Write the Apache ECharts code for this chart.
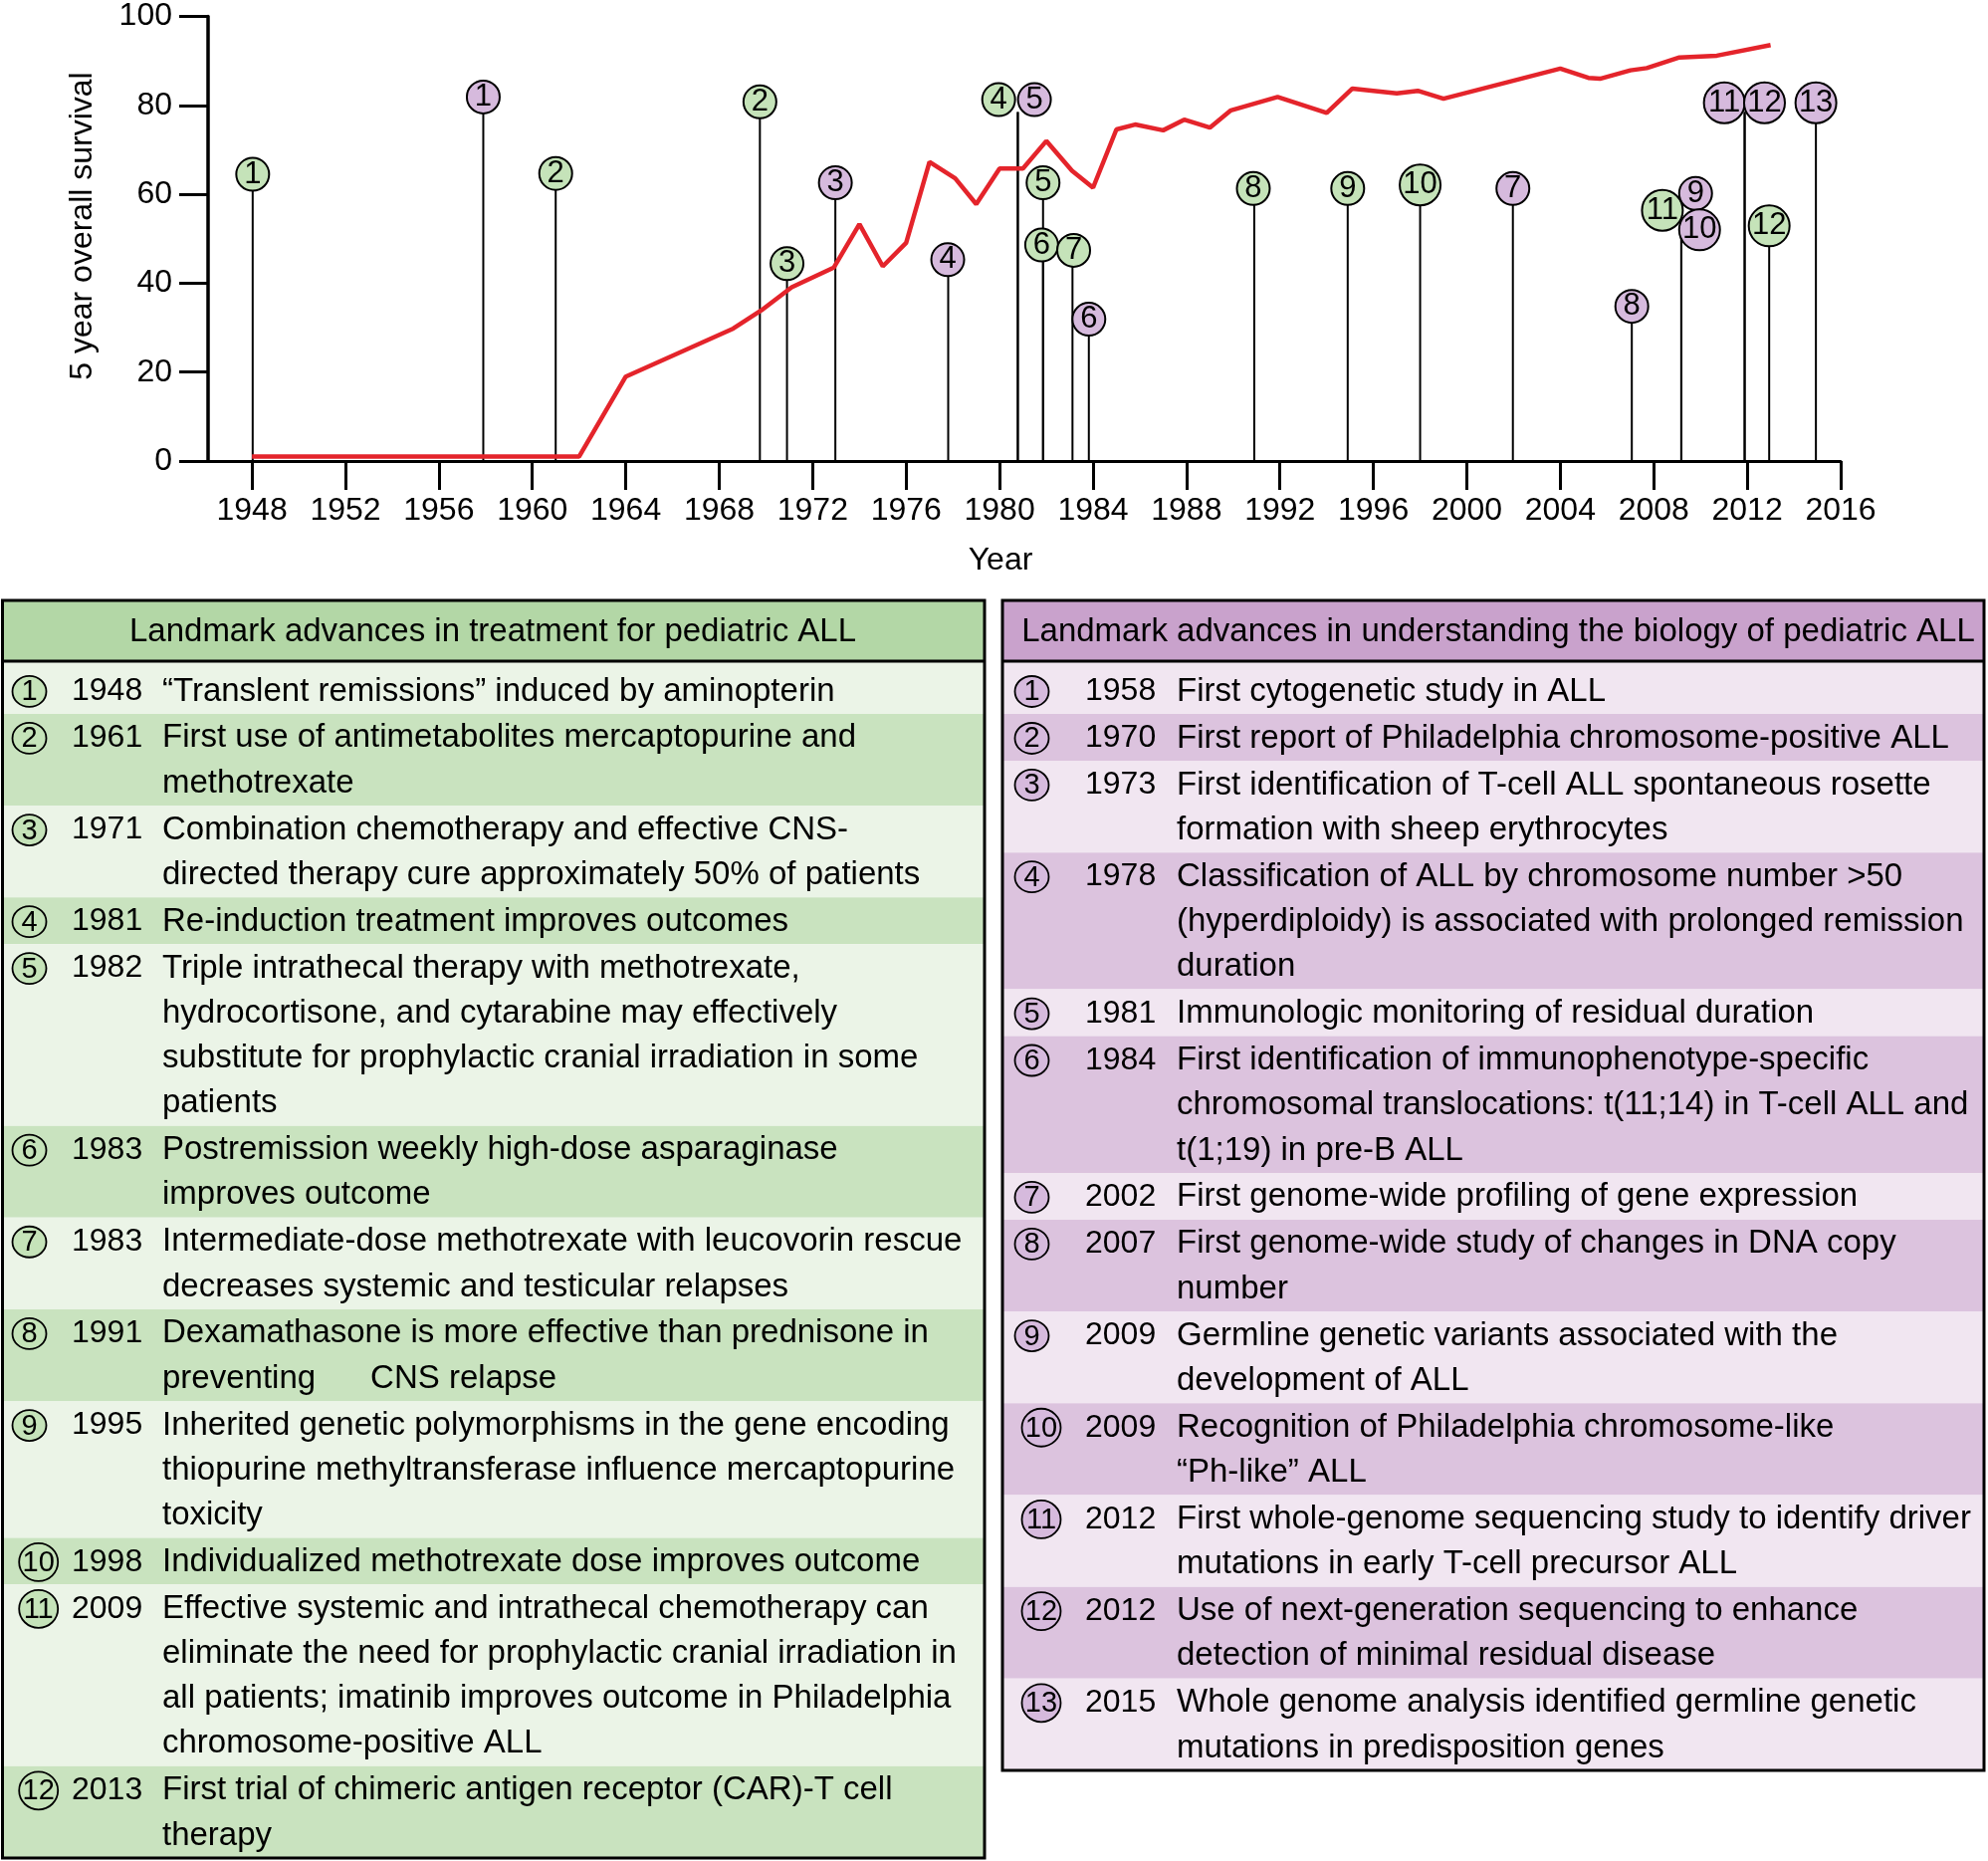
<!DOCTYPE html>
<html><head><meta charset="utf-8">
<script src="https://cdn.jsdelivr.net/npm/echarts@6/dist/echarts.min.js"></script>
<style>html,body{margin:0;padding:0;background:#fff}#chart{width:1997px;height:1869px}</style>
</head><body><div id="chart"></div>
<script>
// ================= DATA =================
const xTickYears = [1948,1952,1956,1960,1964,1968,1972,1976,1980,1984,1988,1992,1996,2000,2004,2008,2012,2016];
const yTicks = [0,20,40,60,80,100];

// 5-year overall survival (red line)
const survivalYears  = [1948, 1962, 1964, 1968.6, 1969.8, 1971.1, 1972.9, 1974, 1975, 1976, 1977, 1978.1, 1979, 1980, 1981, 1982, 1983.1, 1984, 1985, 1985.8, 1987, 1987.9, 1989, 1989.9, 1991.9, 1994, 1995.1, 1997, 1997.9, 1999, 2004, 2005.2, 2005.7, 2007, 2007.7, 2009.1, 2010.7, 2013];
const survivalValues = [1, 1, 19, 29.8, 33.9, 39.1, 43.5, 53.3, 43.8, 49.1, 67.3, 63.6, 57.8, 65.8, 65.8, 72.0, 65.3, 61.5, 74.6, 75.7, 74.4, 76.8, 75.0, 78.9, 81.9, 78.3, 83.8, 82.7, 83.3, 81.5, 88.3, 86.2, 86.0, 87.9, 88.4, 90.8, 91.2, 93.6];

// Treatment landmarks (green markers)
const treatLabels    = ['1','2','3','4','5','6','7','8','9','10','11','12'];
const treatStemYears = [1948.03, 1961.0, 1970.9, 1980.78, 1981.86, 1981.86, 1983.12, 1990.9, 1994.9, 1998.0, 2009.18, 2012.94];
const treatStemTops  = [64.5, 64.7, 44.4, 78.5, 62.6, 48.6, 47.4, 61.3, 61.3, 62.1, 52, 52.9];
const treatYears     = [1948.03, 1961.0, 1970.9, 1979.96, 1981.86, 1981.8, 1983.17, 1990.86, 1994.9, 1998.0, 2008.37, 2012.94];
const treatValues    = [64.5, 64.7, 44.4, 81.3, 62.6, 48.6, 47.4, 61.3, 61.3, 62.1, 56.4, 52.9];

// Biology landmarks (purple markers)
const bioLabels    = ['1','2','3','4','5','6','7','8','9','10','11','12','13'];
const bioStemYears = [1957.9, 1969.74, 1972.97, 1977.8, 1980.78, 1983.82, 2001.97, 2007.06, 2009.18, 2009.18, 2011.89, 2011.89, 2014.94];
const bioStemTops  = [81.9, 80.8, 62.6, 45.3, 78.5, 31.9, 61.3, 34.8, 52, 52, 78.5, 78.5, 80.6];
const bioYears     = [1957.9, 1969.74, 1972.97, 1977.78, 1981.49, 1983.82, 2001.97, 2007.06, 2009.79, 2009.96, 2011.02, 2012.74, 2014.94];
const bioValues    = [81.9, 80.8, 62.6, 45.3, 81.3, 31.9, 61.3, 34.8, 60.2, 52.0, 80.6, 80.6, 80.6];

// Tables
const treatTitle = 'Landmark advances in treatment for pediatric ALL';
const treatTableYears = ['1948','1961','1971','1981','1982','1983','1983','1991','1995','1998','2009','2013'];
const treatTableText = [
  ['\u201CTranslent remissions\u201D induced by aminopterin'],
  ['First use of antimetabolites mercaptopurine and', 'methotrexate'],
  ['Combination chemotherapy and effective CNS-', 'directed therapy cure approximately 50% of patients'],
  ['Re-induction treatment improves outcomes'],
  ['Triple intrathecal therapy with methotrexate,', 'hydrocortisone, and cytarabine may effectively', 'substitute for prophylactic cranial irradiation in some', 'patients'],
  ['Postremission weekly high-dose asparaginase', 'improves outcome'],
  ['Intermediate-dose methotrexate with leucovorin rescue', 'decreases systemic and testicular relapses'],
  ['Dexamathasone is more effective than prednisone in', 'preventing      CNS relapse'],
  ['Inherited genetic polymorphisms in the gene encoding', 'thiopurine methyltransferase influence mercaptopurine', 'toxicity'],
  ['Individualized methotrexate dose improves outcome'],
  ['Effective systemic and intrathecal chemotherapy can', 'eliminate the need for prophylactic cranial irradiation in', 'all patients; imatinib improves outcome in Philadelphia', 'chromosome-positive ALL'],
  ['First trial of chimeric antigen receptor (CAR)-T cell', 'therapy']
];
const bioTitle = 'Landmark advances in understanding the biology of pediatric ALL';
const bioTableYears = ['1958','1970','1973','1978','1981','1984','2002','2007','2009','2009','2012','2012','2015'];
const bioTableText = [
  ['First cytogenetic study in ALL'],
  ['First report of Philadelphia chromosome-positive ALL'],
  ['First identification of T-cell ALL spontaneous rosette', 'formation with sheep erythrocytes'],
  ['Classification of ALL by chromosome number >50', '(hyperdiploidy) is associated with prolonged remission', 'duration'],
  ['Immunologic monitoring of residual duration'],
  ['First identification of immunophenotype-specific', 'chromosomal translocations: t(11;14) in T-cell ALL and', 't(1;19) in pre-B ALL'],
  ['First genome-wide profiling of gene expression'],
  ['First genome-wide study of changes in DNA copy', 'number'],
  ['Germline genetic variants associated with the', 'development of ALL'],
  ['Recognition of Philadelphia chromosome-like', '\u201CPh-like\u201D ALL'],
  ['First whole-genome sequencing study to identify driver', 'mutations in early T-cell precursor ALL'],
  ['Use of next-generation sequencing to enhance', 'detection of minimal residual disease'],
  ['Whole genome analysis identified germline genetic', 'mutations in predisposition genes']
];

// ================= STYLE =================
const FONT = '"Liberation Sans", Arial, Helvetica, sans-serif';
const GREEN = '#c5e3b9', PURPLE = '#d6badd', RED = '#e4242b';
const BIO_DRAWN_GREEN = ['2']; // in the figure, biology marker 2 is drawn with green fill

const chart = echarts.init(document.getElementById('chart'), null, {renderer: 'canvas'});

function markerData(years, values, labels) {
  return years.map((y, i) => [y, values[i], labels[i]]);
}
function stemData(years, tops) {
  return years.map((y, i) => [y, tops[i]]);
}

const stemSeries = (data) => ({
  type: 'custom', z: 2, silent: true,
  data: data,
  encode: {x: 0, y: 1},
  renderItem: (params, api) => {
    const p0 = api.coord([api.value(0), 0]);
    const p1 = api.coord([api.value(0), api.value(1)]);
    return {type: 'line', shape: {x1: p0[0], y1: p0[1], x2: p1[0], y2: p1[1]},
            style: {stroke: '#000', lineWidth: 2}};
  }
});

const markerSeries = (data, fillFn) => ({
  type: 'scatter', z: 5, silent: true,
  data: data,
  symbol: 'circle',
  symbolSize: (v) => (String(v[2]).length > 1 ? 41 : 33),
  itemStyle: {color: (p) => fillFn(p.data[2]), borderColor: '#000', borderWidth: 2, opacity: 1},
  label: {show: true, position: 'inside', formatter: (p) => p.data[2],
          fontSize: 31, color: '#000', fontFamily: FONT}
});

// ---------- table graphics ----------
const LINE_H = 45.2, FIRST_EXTRA = 6;
function buildTable(c) {
  const els = [];
  els.push({type: 'rect', shape: {x: c.x0, y: c.top, width: c.x1 - c.x0, height: c.headBottom - c.top},
            style: {fill: c.headFill}, z: 1});
  const totalLines = c.texts.reduce((s, t) => s + t.length, 0);
  const pad = (c.bottom - c.headBottom - totalLines * LINE_H - FIRST_EXTRA) / c.texts.length;
  let y = c.headBottom;
  c.texts.forEach((lines, i) => {
    const h = lines.length * LINE_H + pad + (i === 0 ? FIRST_EXTRA : 0);
    els.push({type: 'rect', shape: {x: c.x0, y: y, width: c.x1 - c.x0, height: h},
              style: {fill: i % 2 === 0 ? c.lightFill : c.darkFill}, z: 1});
    const cy = y + (i === 0 ? FIRST_EXTRA : 0) + pad / 2 + LINE_H / 2;
    const lab = c.labels[i];
    const two = lab.length > 1;
    els.push({type: 'ellipse', shape: {cx: two ? c.cx2 : c.cx1, cy: cy + 1, rx: two ? 19.5 : 17, ry: two ? 19 : 15.5},
              style: {fill: c.circleFill, stroke: '#000', lineWidth: 1.8}, z: 3});
    els.push({type: 'text', x: two ? c.cx2 : c.cx1, y: cy + 2, z: 4,
              style: {text: lab, fontSize: 29, fontFamily: FONT, fill: '#000',
                      align: 'center', verticalAlign: 'middle', textAlign: 'center', textVerticalAlign: 'middle'}});
    els.push({type: 'text', x: c.yearX, y: cy + 1, z: 4,
              style: {text: c.years[i], fontSize: 32, fontFamily: FONT, fill: '#000',
                      align: 'left', verticalAlign: 'middle', textAlign: 'left', textVerticalAlign: 'middle'}});
    lines.forEach((ln, j) => {
      els.push({type: 'text', x: c.textX, y: cy + 1 + j * LINE_H, z: 4,
                style: {text: ln, fontSize: 33, fontFamily: FONT, fill: '#000',
                        align: 'left', verticalAlign: 'middle', textAlign: 'left', textVerticalAlign: 'middle'}});
    });
    y += h;
  });
  els.push({type: 'text', x: c.titleX, y: (c.top + c.headBottom) / 2 + 1, z: 4,
            style: {text: c.title, fontSize: 33, fontFamily: FONT, fill: '#000',
                    align: 'center', verticalAlign: 'middle', textAlign: 'center', textVerticalAlign: 'middle'}});
  els.push({type: 'line', shape: {x1: c.x0, y1: c.headBottom, x2: c.x1, y2: c.headBottom},
            style: {stroke: '#000', lineWidth: 3}, z: 5});
  els.push({type: 'rect', shape: {x: c.x0, y: c.top, width: c.x1 - c.x0, height: c.bottom - c.top},
            style: {fill: null, stroke: '#000', lineWidth: 3}, z: 6});
  return els;
}

const graphics = [].concat(
  buildTable({x0: 2.5, x1: 989, top: 603, headBottom: 664, bottom: 1866,
    headFill: '#b3d7a6', lightFill: '#ebf4e7', darkFill: '#c9e3bf', circleFill: GREEN,
    title: treatTitle, titleX: 495, years: treatTableYears, texts: treatTableText, labels: treatLabels,
    cx1: 29.5, cx2: 38.7, yearX: 72, textX: 163}),
  buildTable({x0: 1007, x1: 1993, top: 603, headBottom: 664, bottom: 1778,
    headFill: '#c9a2cc', lightFill: '#f1e6f1', darkFill: '#dcc3de', circleFill: PURPLE,
    title: bioTitle, titleX: 1505, years: bioTableYears, texts: bioTableText, labels: bioLabels,
    cx1: 1036.5, cx2: 1046, yearX: 1090, textX: 1182}),
  [
    {type: 'text', x: 83, y: 227, rotation: Math.PI / 2, z: 4,
     style: {text: '5 year overall survival', fontSize: 32, fontFamily: FONT, fill: '#000',
             align: 'center', verticalAlign: 'middle', textAlign: 'center', textVerticalAlign: 'middle'}},
    {type: 'text', x: 1005, y: 563, z: 4,
     style: {text: 'Year', fontSize: 32, fontFamily: FONT, fill: '#000',
             align: 'center', verticalAlign: 'middle', textAlign: 'center', textVerticalAlign: 'middle'}}
  ]
);

const option = {
  animation: false,
  backgroundColor: '#fff',
  grid: {left: 209, right: 148, top: 16.6, bottom: 1406, containLabel: false},
  xAxis: {
    type: 'value', min: 1946.12, max: 2016,
    axisLine: {show: true, lineStyle: {color: '#000', width: 3}},
    axisTick: {show: true, customValues: xTickYears, length: 29, inside: false, lineStyle: {color: '#000', width: 3}},
    axisLabel: {customValues: xTickYears, fontSize: 32, color: '#000', fontFamily: FONT, margin: 34,
                formatter: (v) => String(Math.round(v))},
    splitLine: {show: false}
  },
  yAxis: {
    type: 'value', min: 0, max: 100, interval: 20,
    axisLine: {show: true, lineStyle: {color: '#000', width: 3.5}},
    axisTick: {show: true, length: 29, inside: false, lineStyle: {color: '#000', width: 3}},
    axisLabel: {fontSize: 32, color: '#000', fontFamily: FONT, margin: 36,
                formatter: (v) => (yTicks.indexOf(v) >= 0 ? String(v) : '')},
    splitLine: {show: false}
  },
  series: [
    stemSeries(stemData(treatStemYears, treatStemTops)),
    stemSeries(stemData(bioStemYears, bioStemTops)),
    {type: 'line', z: 3, silent: true, showSymbol: false, symbol: 'none',
     data: survivalYears.map((y, i) => [y, survivalValues[i]]),
     lineStyle: {color: RED, width: 4.5}},
    markerSeries(markerData(treatYears, treatValues, treatLabels), () => GREEN),
    markerSeries(markerData(bioYears, bioValues, bioLabels), (lab) => (BIO_DRAWN_GREEN.indexOf(lab) >= 0 ? GREEN : PURPLE))
  ],
  graphic: {elements: graphics}
};
chart.setOption(option);
</script>
</body></html>
